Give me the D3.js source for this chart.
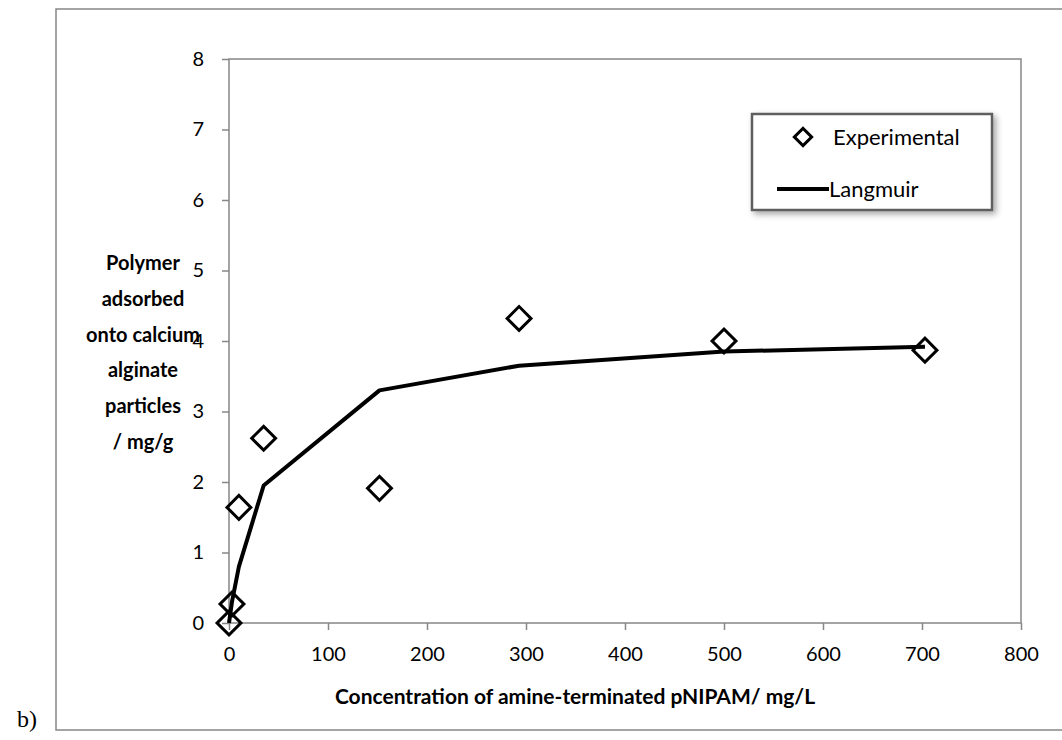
<!DOCTYPE html>
<html>
<head>
<meta charset="utf-8">
<script src="https://cdn.jsdelivr.net/npm/d3@7"></script>
<style>
  body { margin: 0; background: #fff; }
  svg text { font-family: Lato, "Open Sans", sans-serif; fill: #000; }
</style>
</head>
<body>
<svg id="chart" width="1062" height="740"></svg>
<script>
// Experimental points (concentration mg/L, adsorbed mg/g)
const expX = [0, 3, 10, 35, 152, 293, 500, 703];
const expY = [0, 0.27, 1.64, 2.62, 1.91, 4.32, 4.0, 3.87];
// Langmuir fit, evaluated at the same concentrations
const fitX = [0, 3, 10, 35, 152, 293, 500, 703];
const fitY = [0, 0.3, 0.8, 1.95, 3.3, 3.65, 3.85, 3.92];
// Axis ticks
const xTicks = [0, 100, 200, 300, 400, 500, 600, 700, 800];
const yTicks = [0, 1, 2, 3, 4, 5, 6, 7, 8];
const yTitle = ["Polymer", "adsorbed", "onto calcium", "alginate", "particles", "/ mg/g"];
const xTitle = "Concentration of amine-terminated pNIPAM/ mg/L";
const legendNames = ["Experimental", "Langmuir"];

const svg = d3.select("#chart");
const grey = "#878787";

// plot area box
const p = { left: 229, top: 59, right: 1021, bottom: 623 };
const xScale = d3.scaleLinear().domain([0, 800]).range([p.left, p.right]);
const yScale = d3.scaleLinear().domain([0, 8]).range([p.bottom, p.top]);

// Outer chart frame (runs off the right edge of the picture)
svg.append("path")
  .attr("d", "M1070,9H56V730H1070")
  .attr("fill", "none").attr("stroke", grey).attr("stroke-width", 1.5);

// Plot area border
svg.append("rect")
  .attr("x", p.left).attr("y", p.top)
  .attr("width", p.right - p.left).attr("height", p.bottom - p.top)
  .attr("fill", "none").attr("stroke", grey).attr("stroke-width", 1.5);

// X axis
const gx = svg.append("g")
  .attr("transform", `translate(0,${p.bottom})`)
  .call(d3.axisBottom(xScale).tickValues(xTicks).tickSize(7).tickPadding(17).tickSizeOuter(0));
// Y axis
const gy = svg.append("g")
  .attr("transform", `translate(${p.left},0)`)
  .call(d3.axisLeft(yScale).tickValues(yTicks).tickSize(7).tickPadding(18).tickSizeOuter(0));
[gx, gy].forEach(g => {
  g.select(".domain").remove();
  g.selectAll("line").attr("stroke", grey).attr("stroke-width", 1.5);
  g.selectAll("text").attr("font-size", 20).attr("font-family", "Lato, sans-serif");
});

// Axis titles
svg.append("text")
  .attr("x", 575).attr("y", 704)
  .attr("text-anchor", "middle")
  .attr("font-size", 21).attr("font-weight", "bold")
  .text(xTitle);
svg.append("text")
  .attr("text-anchor", "middle")
  .attr("font-size", 20).attr("font-weight", "bold")
  .selectAll("tspan").data(yTitle).join("tspan")
    .attr("x", 143)
    .attr("y", (d, i) => 270 + i * 35.8)
    .text(d => d);

// panel label
svg.append("text")
  .attr("x", 17).attr("y", 727)
  .attr("font-size", 24)
  .style("font-family", "'Liberation Serif', serif")
  .text("b)");

// Langmuir line
const line = d3.line().x(d => xScale(d[0])).y(d => yScale(d[1]));
svg.append("path")
  .datum(d3.zip(fitX, fitY))
  .attr("d", line)
  .attr("fill", "none").attr("stroke", "#000").attr("stroke-width", 4)
  .attr("stroke-linejoin", "round");

// Diamond markers
const diamond = d3.symbol().type(d3.symbolSquare).size(285);
svg.append("g").selectAll("path")
  .data(d3.zip(expX, expY)).join("path")
    .attr("d", diamond)
    .attr("transform", d => `translate(${xScale(d[0])},${yScale(d[1])}) rotate(45)`)
    .attr("fill", "none").attr("stroke", "#000").attr("stroke-width", 3);

// Legend with drop shadow
const defs = svg.append("defs");
defs.append("filter").attr("id", "shadow")
  .attr("x", "-10%").attr("y", "-10%").attr("width", "130%").attr("height", "140%")
  .append("feDropShadow")
    .attr("dx", 3).attr("dy", 3).attr("stdDeviation", 3)
    .attr("flood-color", "#000").attr("flood-opacity", 0.35);
const lg = svg.append("g").attr("transform", "translate(752,114)");
lg.append("rect")
  .attr("width", 240).attr("height", 96)
  .attr("fill", "#fff").attr("stroke", "#5f5f5f").attr("stroke-width", 2.5)
  .attr("filter", "url(#shadow)");
lg.append("path")
  .attr("d", d3.symbol().type(d3.symbolSquare).size(150))
  .attr("transform", "translate(51,23) rotate(45)")
  .attr("fill", "none").attr("stroke", "#000").attr("stroke-width", 3);
lg.append("line")
  .attr("x1", 25).attr("x2", 77).attr("y1", 75).attr("y2", 75)
  .attr("stroke", "#000").attr("stroke-width", 4);
lg.selectAll("text.item").data(legendNames).join("text")
  .attr("class", "item")
  .attr("x", (d, i) => i === 0 ? 81 : 77)
  .attr("y", (d, i) => i === 0 ? 31 : 83)
  .attr("font-size", 22)
  .text(d => d);
</script>
</body>
</html>
